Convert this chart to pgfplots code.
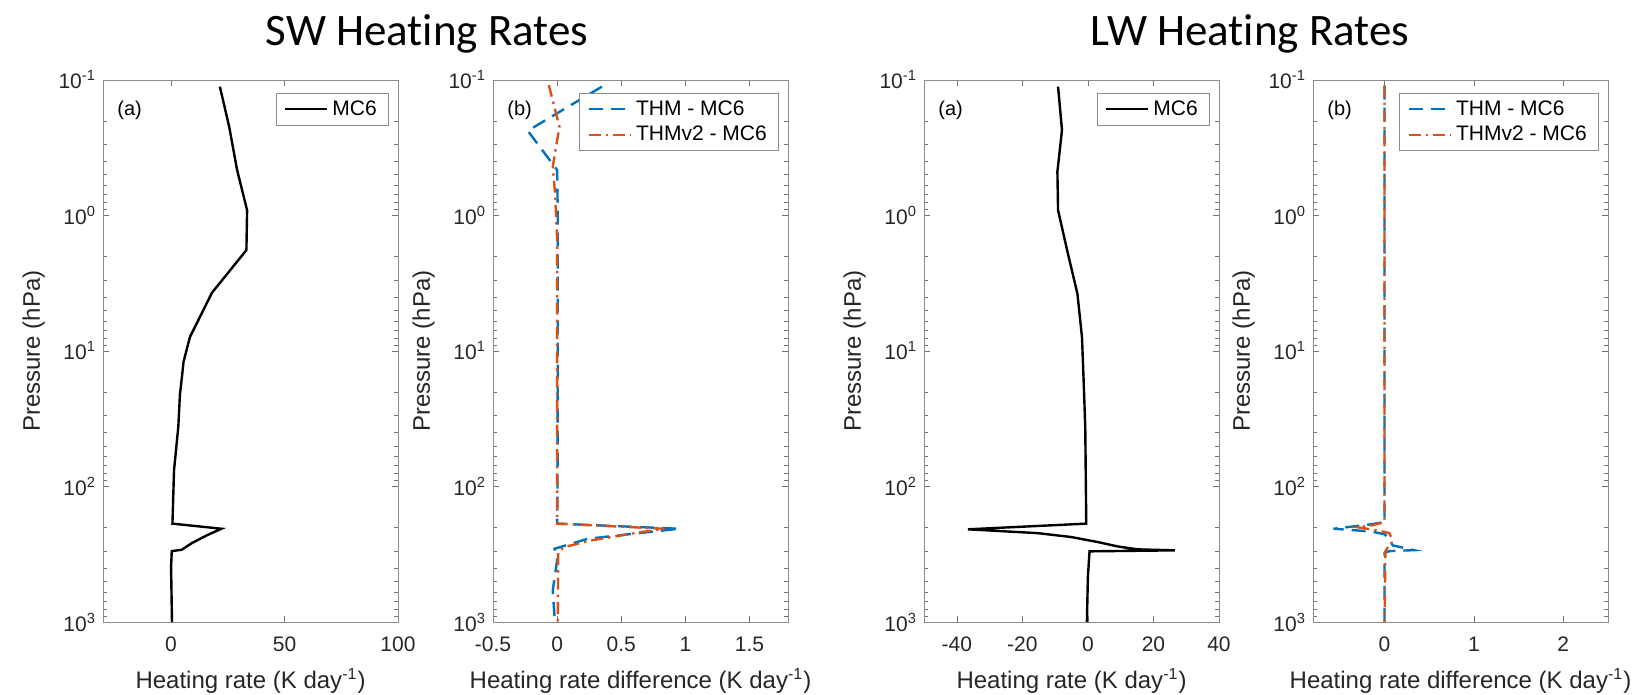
\documentclass[border=0pt]{standalone}
\usepackage{pgfplots}
\pgfplotsset{compat=1.18}
\usepackage{fontspec}
\setmainfont{Liberation Sans}
\newfontfamily\titlefont[Ligatures=NoCommon]{Carlito}

\definecolor{mblue}{rgb}{0,0.447,0.741}
\definecolor{morange}{rgb}{0.85,0.325,0.098}

% heating rate profiles: x value, pressure (hPa)
\pgfplotstableread{
x p
21.5 0.112
25.6 0.221
29.1 0.462
33.5 0.914
33.2 1.80
18.0 3.72
8.3 7.9
5.5 12
4.7 16
3.9 21
3.2 36
1.3 76
0.6 188
22.2 205
15.6 230
9.1 262
4.7 293
0.3 300
0.0 393
0.4 1000
}\swmc
\pgfplotstableread{
x p
0.349 0.112
-0.229 0.237
0.0 0.462
0.005 1
0.005 10
0.003 100
0.0 188
0.953 205
0.79 213
0.24 243
-0.02 288
-0.01 313
0.0 350
-0.034 585
-0.02 918
-0.02 1000
}\swthm
\pgfplotstableread{
x p
-0.065 0.109
0.018 0.221
-0.034 0.436
-0.016 0.69
0.0 1.5
0.0 10
0.0 188
0.836 205
0.656 217
0.266 250
0.055 280
0.008 305
0.005 1000
}\swthmv
\pgfplotstableread{
x p
-9.1 0.112
-7.9 0.234
-9.3 0.475
-9.1 0.914
-6.1 1.91
-3.2 3.77
-1.8 7.9
-1.3 16.5
-0.8 36.5
-0.5 188
-36.6 207
-27.3 213
-15.2 221
-5.1 236
3.0 257
9.1 277
15.2 291
26.5 296
0.5 301
0.0 466
-0.3 1000
}\lwmc
\pgfplotstableread{
x p
0 0.11
0 183
-0.15 190
-0.4 199
-0.57 205
-0.35 210
-0.15 215
0 225
0.07 250
0.09 272
0.2 282
0.33 295
0.05 300
0 310
0 1000
}\lwthm
\pgfplotstableread{
x p
0 0.11
0 183
-0.15 194
-0.3 200
-0.1 210
0.05 220
0.08 240
0.08 270
0.03 285
0.01 300
0 1000
}\lwthmv

\pgfplotsset{
  profstyle/.style={
    scale only axis, width=147.5pt, height=271pt,
    anchor=south west,
    axis line style={black!45},
    every tick/.append style={black!55},
    major tick length=3pt, minor tick length=1.8pt,
    tick label style={font=\fontsize{10.5}{12}\selectfont, text=black!85},
    xticklabel style={yshift=-4pt},
    label style={font=\fontsize{12}{14}\selectfont, text=black!85},
    xlabel style={yshift=-1.5pt},
    ylabel={Pressure (hPa)},
    legend cell align=left,
    legend image code/.code={\draw[##1] (0pt,0pt) -- (21pt,0pt);},
    legend style={at={(0.97,0.976)}, anchor=north east, draw=black!45,
      font=\fontsize{10.5}{13}\selectfont, inner sep=1.5pt, inner xsep=4pt},
  },
  mcline/.style={black, line width=1.2pt},
  thmline/.style={mblue, line width=1.2pt, dash pattern=on 7pt off 4pt},
  thmvline/.style={morange, line width=1.2pt, dash pattern=on 6pt off 2.5pt on 1.2pt off 2.5pt},
}
\newcommand\presticks{10\textsuperscript{-1},10\textsuperscript{0},10\textsuperscript{1},10\textsuperscript{2},10\textsuperscript{3}}

\begin{document}
\begin{tikzpicture}
\path[use as bounding box] (0,0) rectangle (819pt,347.5pt);

\node[font=\titlefont\fontsize{22.5}{26}\selectfont, anchor=base] at (213.5pt,324.5pt) {SW Heating Rates};
\node[font=\titlefont\fontsize{22.5}{26}\selectfont, anchor=base] at (625pt,324.5pt) {LW Heating Rates};

% SW (a)
\begin{axis}[profstyle, at={(51.5pt,36.5pt)},
  ymode=log, y dir=reverse, ymin=0.1, ymax=1000,
  ytick={0.1,1,10,100,1000}, yticklabels/.expand once={\presticks},
  xmin=-30, xmax=100, xtick={0,50,100}, xticklabels={0,50,100},
  xlabel={Heating rate (K day\textsuperscript{-1})}]
  \addplot[mcline] table[x=x,y=p] {\swmc};
  \addlegendentry{MC6}
  \node[anchor=north west, font=\fontsize{10}{12}\selectfont] at (rel axis cs:0.025,0.975) {(a)};
\end{axis}

% SW (b)
\begin{axis}[profstyle, at={(246.5pt,36.5pt)},
  ymode=log, y dir=reverse, ymin=0.1, ymax=1000,
  ytick={0.1,1,10,100,1000}, yticklabels/.expand once={\presticks},
  xmin=-0.5, xmax=1.8, xtick={-0.5,0,0.5,1,1.5}, xticklabels={-0.5,0,0.5,1,1.5},
  xlabel={Heating rate difference (K day\textsuperscript{-1})}]
  \addplot[thmline] table[x=x,y=p] {\swthm};
  \addlegendentry{THM - MC6}
  \addplot[thmvline] table[x=x,y=p] {\swthmv};
  \addlegendentry{THMv2 - MC6}
  \node[anchor=north west, font=\fontsize{10}{12}\selectfont] at (rel axis cs:0.025,0.975) {(b)};
\end{axis}

% LW (a)
\begin{axis}[profstyle, at={(462pt,36.5pt)},
  ymode=log, y dir=reverse, ymin=0.1, ymax=1000,
  ytick={0.1,1,10,100,1000}, yticklabels/.expand once={\presticks},
  xmin=-50, xmax=40, xtick={-40,-20,0,20,40}, xticklabels={-40,-20,0,20,40},
  xlabel={Heating rate (K day\textsuperscript{-1})}]
  \addplot[mcline] table[x=x,y=p] {\lwmc};
  \addlegendentry{MC6}
  \node[anchor=north west, font=\fontsize{10}{12}\selectfont] at (rel axis cs:0.025,0.975) {(a)};
\end{axis}

% LW (b)
\begin{axis}[profstyle, at={(656.5pt,36.5pt)},
  ymode=log, y dir=reverse, ymin=0.1, ymax=1000,
  ytick={0.1,1,10,100,1000}, yticklabels/.expand once={\presticks},
  xmin=-0.8, xmax=2.5, xtick={0,1,2}, xticklabels={0,1,2},
  xlabel={Heating rate difference (K day\textsuperscript{-1})}]
  \addplot[thmline] table[x=x,y=p] {\lwthm};
  \addlegendentry{THM - MC6}
  \addplot[thmvline] table[x=x,y=p] {\lwthmv};
  \addlegendentry{THMv2 - MC6}
  \node[anchor=north west, font=\fontsize{10}{12}\selectfont] at (rel axis cs:0.025,0.975) {(b)};
\end{axis}
\end{tikzpicture}
\end{document}
